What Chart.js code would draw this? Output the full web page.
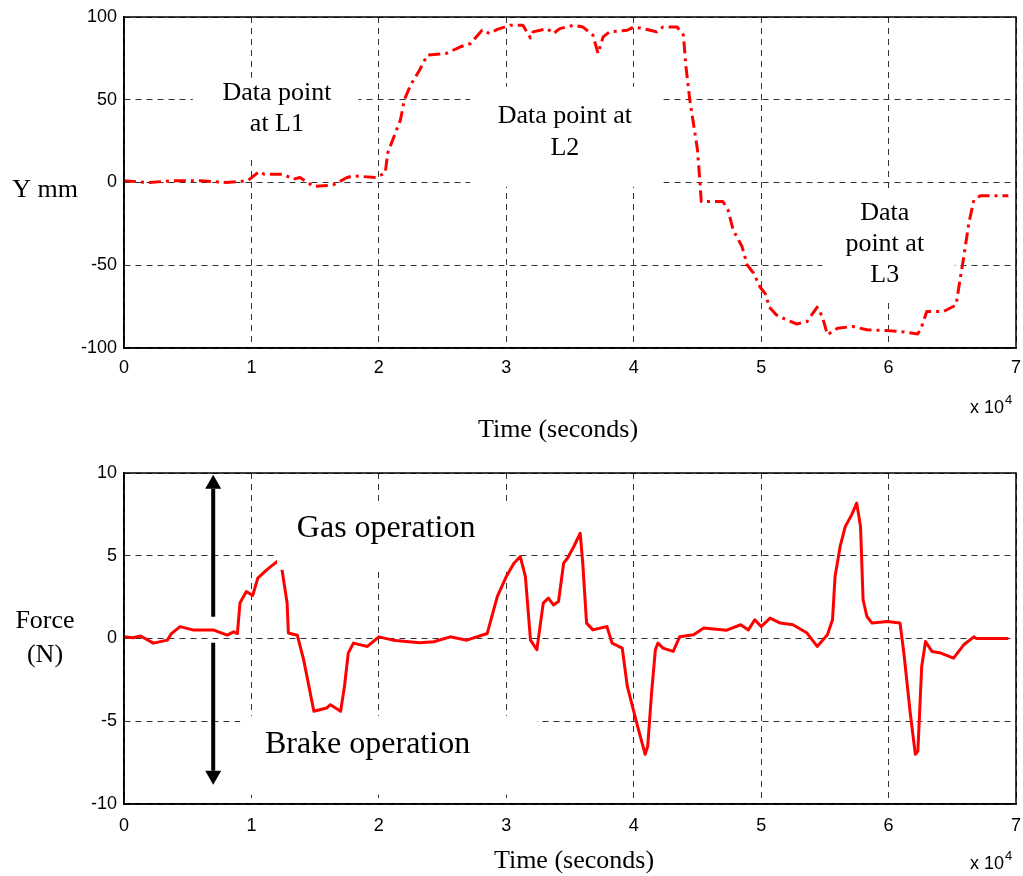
<!DOCTYPE html>
<html>
<head>
<meta charset="utf-8">
<script src="https://cdn.jsdelivr.net/npm/chart.js@4.4.1/dist/chart.umd.min.js"></script>
<style>
  body { margin: 0; background: #fff; }
  #wrap { position: relative; width: 1023px; height: 876px; }
  canvas { position: absolute; left: 0; }
</style>
</head>
<body>
<div id="wrap">
  <canvas id="posChart" width="1023" height="450" style="top:0"></canvas>
  <canvas id="forceChart" width="1023" height="426" style="top:450px"></canvas>
</div>
<script>
// vehicle position (mm) against time (s)
var posTime = [0, 2000, 3700, 6000, 8000, 9700, 10600, 11000, 12500, 13300,
  13800, 14900, 16400, 17500, 18000, 19800, 20500, 20700, 21300, 21700,
  22000, 22500, 23200, 23800, 25300, 26400, 27200, 28100, 28700, 29300,
  30300, 31300, 31900, 32100, 33200, 33700, 34200, 35300, 36000, 36800,
  37200, 37600, 38100, 39500, 40000, 41300, 41800, 42300, 43400, 43900,
  44100, 44400, 44700, 45000, 45200, 45300, 47000, 47400, 47800, 48500,
  48900, 49400, 49900, 50400, 50600, 51200, 52000, 52800, 53600, 54400,
  54800, 55200, 56000, 57200, 58300, 59900, 60900, 62300, 62600, 63000,
  64300, 65300, 65600, 65900, 66300, 66700, 67200, 69400];
var posMm = [1, 0, 1, 1, 0, 1, 6.6, 5, 5, 2,
  3, -2.4, -1.5, 3, 4, 3, 5.8, 18, 30, 38,
  50, 59, 68, 77, 78, 82, 84, 92, 90, 92.5,
  95, 95, 87.4, 91, 93, 90, 93, 95, 94, 89,
  78, 88, 91, 92, 94, 92, 91, 94, 94, 89,
  70, 50, 35, 20, 0, -11.5, -11.5, -16.5, -28.6, -38.7,
  -49.8, -54.7, -63, -68, -75, -80, -83, -85.5, -84, -75.3,
  -81, -92, -88, -87, -89, -89.5, -90, -91.5, -87, -78,
  -78, -74, -59, -45, -24.5, -10.5, -8, -8];

// pedal force (N) against time (s)
var forceTime = [0, 700, 1300, 2300, 3400, 3700, 4400, 5400, 7000, 8100,
  8600, 8900, 9100, 9600, 10100, 10500, 11200, 12000, 12400, 12800,
  12900, 13600, 14100, 14900, 15900, 16200, 17000, 17300, 17600, 18000,
  19100, 20000, 21100, 23200, 24300, 25600, 26900, 28500, 29300, 30000,
  30600, 31100, 31500, 31900, 32400, 32900, 33300, 33700, 34100, 34500,
  34800, 35300, 35800, 36000, 36300, 36800, 37900, 38300, 39100, 39500,
  40300, 40900, 41100, 41400, 41700, 41900, 42300, 43100, 43600, 44700,
  45500, 47300, 48400, 49000, 49500, 50000, 50700, 51500, 52500, 53600,
  54400, 55200, 55600, 55800, 56200, 56600, 57100, 57500, 57800, 58000,
  58300, 58700, 59900, 60900, 61200, 61700, 62100, 62300, 62600, 62900,
  63400, 64100, 65100, 65900, 66700, 66900, 69400];
var forceN = [0.1, 0.05, 0.15, -0.28, -0.1, 0.28, 0.72, 0.52, 0.52, 0.2,
  0.4, 0.3, 2.14, 2.84, 2.6, 3.65, 4.15, 4.65, 4.15, 2.14,
  0.33, 0.2, -1.29, -4.4, -4.2, -4.0, -4.4, -2.9, -0.88, -0.28,
  -0.48, 0.1, -0.1, -0.25, -0.2, 0.1, -0.1, 0.3, 2.54, 3.74,
  4.55, 4.95, 3.74, -0.1, -0.68, 2.14, 2.44, 2.03, 2.24, 4.55,
  4.85, 5.56, 6.36, 4.55, 0.93, 0.52, 0.72, -0.28, -0.58, -2.9,
  -5.3, -7.0, -6.5, -3.3, -0.68, -0.28, -0.58, -0.78, 0.1, 0.22,
  0.63, 0.5, 0.83, 0.52, 1.13, 0.72, 1.23, 0.93, 0.83, 0.33,
  -0.48, 0.22, 1.13, 3.74, 5.56, 6.76, 7.47, 8.18, 6.76, 2.34,
  1.33, 0.93, 1.03, 0.93, -0.88, -4.5, -7.0, -6.8, -1.69, -0.18,
  -0.78, -0.88, -1.19, -0.38, 0.1, 0, 0];

var timeTicks = [0, 10000, 20000, 30000, 40000, 50000, 60000, 70000];
var posTicks = [-100, -50, 0, 50, 100];
var forceTicks = [-10, -5, 0, 5, 10];

var serif = '"Liberation Serif", "Times New Roman", serif';
var sans = '"Liberation Sans", Arial, sans-serif';

function toPoints(xs, ys) {
  return xs.map(function (x, i) { return { x: x, y: ys[i] }; });
}

// text labels with white backing, arrows, axis titles and the box frame
var frameAndNotes = {
  id: 'frameAndNotes',
  afterDatasetsDraw: function (chart, args, opts) {
    var ctx = chart.ctx, xs = chart.scales.x, ys = chart.scales.y;
    ctx.save();
    (opts.notes || []).forEach(function (n) {
      var x0 = xs.getPixelForValue(n.box[0]), x1 = xs.getPixelForValue(n.box[1]);
      var y0 = ys.getPixelForValue(n.box[2]), y1 = ys.getPixelForValue(n.box[3]);
      ctx.fillStyle = '#fff';
      ctx.fillRect(x0, y0, x1 - x0, y1 - y0);
      ctx.fillStyle = '#000';
      ctx.font = n.size + 'px ' + serif;
      ctx.textAlign = 'center';
      ctx.textBaseline = 'alphabetic';
      var cx = xs.getPixelForValue(n.x), by = ys.getPixelForValue(n.y);
      n.lines.forEach(function (t, i) { ctx.fillText(t, cx, by + i * n.lead); });
    });
    (opts.arrows || []).forEach(function (a) {
      var x = xs.getPixelForValue(a.x);
      var yFrom = ys.getPixelForValue(a.from), yTip = ys.getPixelForValue(a.to);
      var dir = yTip < yFrom ? -1 : 1;
      var head = 14;
      ctx.strokeStyle = '#000';
      ctx.lineWidth = 4;
      ctx.beginPath();
      ctx.moveTo(x, yFrom);
      ctx.lineTo(x, yTip - dir * head);
      ctx.stroke();
      ctx.fillStyle = '#000';
      ctx.beginPath();
      ctx.moveTo(x, yTip);
      ctx.lineTo(x - 8, yTip - dir * head);
      ctx.lineTo(x + 8, yTip - dir * head);
      ctx.closePath();
      ctx.fill();
    });
    ctx.restore();
  },
  afterDraw: function (chart, args, opts) {
    var ctx = chart.ctx, a = chart.chartArea;
    ctx.save();
    ctx.strokeStyle = '#000';
    ctx.lineWidth = 1.5;
    ctx.strokeRect(a.left, a.top, a.right - a.left, a.bottom - a.top);

    ctx.fillStyle = '#000';
    ctx.font = '26px ' + serif;
    ctx.textAlign = 'center';
    ctx.textBaseline = 'alphabetic';
    var mid = (a.top + a.bottom) / 2;
    opts.yTitle.forEach(function (t, i) {
      ctx.fillText(t, 45, mid + opts.yTitleDy + i * 34);
    });
    ctx.fillText('Time (seconds)', (a.left + a.right) / 2 + opts.xTitleDx, a.bottom + opts.xTitleDy);

    // exponent of the time axis
    ctx.textAlign = 'left';
    ctx.font = '18px ' + sans;
    var ex = 970, ey = a.bottom + 65;
    ctx.fillText('x 10', ex, ey);
    var w = ctx.measureText('x 10').width;
    ctx.font = '13px ' + sans;
    ctx.fillText('4', ex + w + 1, ey - 9);
    ctx.restore();
  }
};

function makeChart(id, points, dash, yMin, yMax, yTicks, padTop, xHeight, labelPad, pluginOpts) {
  return new Chart(document.getElementById(id), {
    type: 'line',
    data: {
      datasets: [{
        data: points,
        borderColor: '#ff0000',
        borderWidth: 3,
        borderDash: dash || [],
        borderJoinStyle: 'round',
        pointRadius: 0,
        tension: 0
      }]
    },
    options: {
      responsive: false,
      animation: false,
      layout: { padding: { top: padTop, right: 7, left: 0, bottom: 0 } },
      plugins: {
        legend: { display: false },
        tooltip: { enabled: false },
        frameAndNotes: pluginOpts
      },
      scales: {
        x: {
          type: 'linear',
          min: timeTicks[0],
          max: timeTicks[timeTicks.length - 1],
          afterBuildTicks: function (s) { s.ticks = timeTicks.map(function (v) { return { value: v }; }); },
          afterFit: function (s) {
            s.height = xHeight;
            s.paddingLeft = 0;
            s.paddingRight = 0;
          },
          ticks: {
            color: '#000',
            font: { family: sans, size: 18 },
            padding: labelPad,
            maxRotation: 0,
            callback: function (v) { return v / 10000; }
          },
          grid: { color: '#333', lineWidth: 1, drawTicks: false },
          border: { color: '#000', width: 1.5, dash: [6, 5] }
        },
        y: {
          min: yMin,
          max: yMax,
          afterBuildTicks: function (s) { s.ticks = yTicks.map(function (v) { return { value: v }; }); },
          afterFit: function (s) {
            s.width = 124;
            s.paddingTop = 0;
            s.paddingBottom = 0;
          },
          ticks: {
            color: '#000',
            font: { family: sans, size: 18 },
            padding: 7
          },
          grid: { color: '#333', lineWidth: 1, drawTicks: false },
          border: { color: '#000', width: 1.5, dash: [6, 5] }
        }
      }
    },
    plugins: [frameAndNotes]
  });
}

makeChart('posChart', toPoints(posTime, posMm), [12, 5, 3, 5], -100, 100, posTicks, 17, 102, 9, {
  notes: [
    { lines: ['Data point', 'at L1'], x: 12000, y: 50, size: 26, lead: 31, box: [5400, 18400, 13.7, 63.3] },
    { lines: ['Data point at', 'L2'], x: 34600, y: 36.1, size: 26, lead: 32, box: [27160, 42310, -2.6, 57.9] },
    { lines: ['Data', 'point at', 'L3'], x: 59700, y: -22.6, size: 26, lead: 31, box: [54790, 65200, -4.4, -71] }
  ],
  yTitle: ['Y mm'],
  yTitleDy: 14,
  xTitleDx: -12,
  xTitleDy: 89
});

makeChart('forceChart', toPoints(forceTime, forceN), null, -10, 10, forceTicks, 23, 72, 11, {
  notes: [
    { lines: ['Gas operation'], x: 20570, y: 6.14, size: 32, lead: 0, box: [12010, 30060, 8.19, 4.15] },
    { lines: ['Brake operation'], x: 19110, y: -6.9, size: 32, lead: 0, box: [9110, 32420, -4.67, -9.44] }
  ],
  arrows: [
    { x: 7000, from: 1.31, to: 9.89 },
    { x: 7000, from: -0.26, to: -8.83 }
  ],
  yTitle: ['Force', '(N)'],
  yTitleDy: -11,
  xTitleDx: 4,
  xTitleDy: 64
});
</script>
</body>
</html>
